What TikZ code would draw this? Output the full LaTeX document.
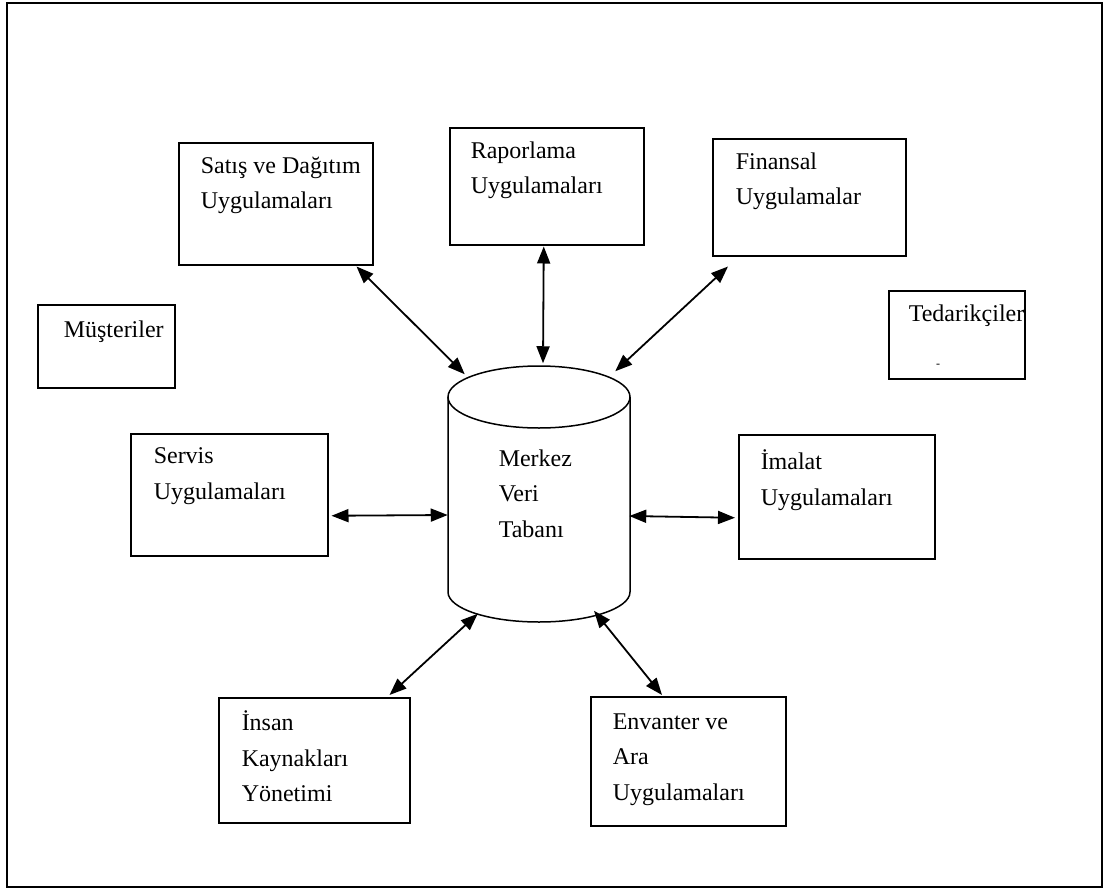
\documentclass[tikz,border=0pt]{standalone}
\usepackage{fontspec}
\setmainfont{Liberation Serif}
\usetikzlibrary{arrows.meta,calc}

\begin{document}
\begin{tikzpicture}[x=1pt,y=-1pt,
    line width=1.5pt,
    box/.style={draw,line width=1.5pt,rectangle,inner sep=0pt,anchor=north west},
    label/.style={anchor=north west,align=left,inner sep=0pt,
      font=\fontsize{24}{35.5}\selectfont},
    link/.style={line width=1.8pt,{Triangle[length=17pt,width=13pt]}-{Triangle[length=17pt,width=13pt]}}]

  \useasboundingbox (0,0) rectangle (1104,889);
  \draw[line width=1.5pt] (7,3) rectangle (1102,887);

  % application boxes
  \node[box,minimum width=194,minimum height=122] (sat) at (178,142) {};
  \node[box,minimum width=194,minimum height=117] (rap) at (449,127) {};
  \node[box,minimum width=193,minimum height=117] (fin) at (712,138) {};
  \node[box,minimum width=137,minimum height=83]  (mus) at (37,304) {};
  \node[box,minimum width=136,minimum height=88]  (ted) at (888,290) {};
  \node[box,minimum width=197,minimum height=122] (ser) at (130,433) {};
  \node[box,minimum width=196,minimum height=124] (ima) at (738,434) {};
  \node[box,minimum width=191,minimum height=125] (ins) at (218,697) {};
  \node[box,minimum width=195,minimum height=129] (env) at (590,696) {};

  % box texts
  \node[label] (satT) at (200,156) {Satış ve Dağıtım\\Uygulamaları};
  \node[label] (rapT) at (470,141) {Raporlama\\Uygulamaları};
  \node[label] (finT) at (735,152) {Finansal\\Uygulamalar};
  \node[label] (musT) at (63,320) {Müşteriler};
  \node[label] (tedT) at (908,304) {Tedarikçiler};
  \node[anchor=center,inner sep=0pt,font=\fontsize{12}{12}\selectfont] (tedM) at (938,366) {-};
  \node[label] (serT) at (153,447) {Servis\\Uygulamaları};
  \node[label] (imaT) at (760,449) {İmalat\\Uygulamaları};
  \node[label] (insT) at (241,710) {İnsan\\Kaynakları\\Yönetimi};
  \node[label] (envT) at (612,713) {Envanter ve\\Ara\\Uygulamaları};

  % central database cylinder
  \node[minimum width=181,minimum height=256,inner sep=0pt] (db) at (539,494) {};
  \draw[line width=1.5pt] (448,397) -- (448,592)
    arc[start angle=180,end angle=0,x radius=91,y radius=30]
    -- (630,397);
  \draw[line width=1.5pt] (539,397) ellipse[x radius=91,y radius=31];
  \node[label] (dbT) at (498,449) {Merkez\\Veri\\Tabanı};

  % connectors
  \draw[link] ($(sat.south east)+(-17,1)$) -- ($(db.north west)+(17,9)$);
  \draw[link] ($(rap.south)+(-3,1)$) -- ($(db.north)+(4,-2)$);
  \draw[link] ($(fin.south west)+(16,10)$) -- ($(db.north east)+(-15,6)$);
  \draw[link] ($(ser.east)+(3,21)$) -- ($(db.west)+(0,21)$);
  \draw[link] ($(db.east)+(-1,22)$) -- ($(ima.west)+(-3,21)$);
  \draw[link] ($(db.south west)+(30,-9)$) -- ($(ins.north east)+(-21,-2)$);
  \draw[link] ($(db.south)+(55,-12)$) -- ($(env.north west)+(72,-1)$);
\end{tikzpicture}
\end{document}
